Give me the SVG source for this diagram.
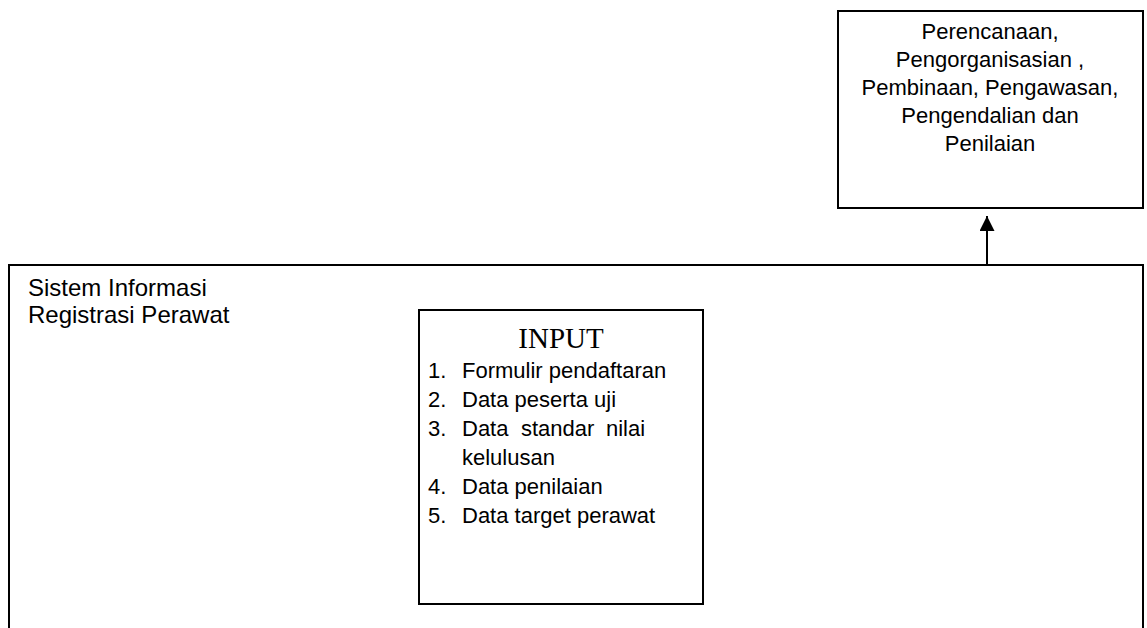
<svg xmlns="http://www.w3.org/2000/svg" width="1147" height="628" viewBox="0 0 1147 628">
<style>
.box{fill:#fff;stroke:#000;stroke-width:2}
.t{font-family:"Liberation Sans",Arial,sans-serif;font-size:22px;fill:#000}
.big{font-size:24px}
.serif{font-family:"Liberation Serif","Times New Roman",serif;font-size:29px;fill:#000}
.c{text-anchor:middle}
.conn{stroke:#000;stroke-width:2;fill:none}
</style>
<defs>
<marker id="arr" markerWidth="15" markerHeight="15" refX="15" refY="7.5" orient="auto" markerUnits="userSpaceOnUse" viewBox="0 0 15 15">
<path d="M0,0 L15,7.5 L0,15 z" fill="#000"/>
</marker>
</defs>
<rect width="1147" height="628" fill="#fff"/>
<g id="sistem">
<rect class="box" x="9" y="265" width="1134" height="400"/>
<text class="t big" x="28" y="296">Sistem Informasi</text>
<text class="t big" x="28" y="323">Registrasi Perawat</text>
</g>
<g id="manajemen">
<rect class="box" x="838" y="11" width="305" height="197"/>
<text class="t c" x="990" y="39">Perencanaan,</text>
<text class="t c" x="990" y="67">Pengorganisasian ,</text>
<text class="t c" x="990" y="95">Pembinaan, Pengawasan,</text>
<text class="t c" x="990" y="123">Pengendalian dan</text>
<text class="t c" x="990" y="151">Penilaian</text>
</g>
<g id="input">
<rect class="box" x="419" y="310" width="284" height="294"/>
<text class="serif c" x="561" y="348">INPUT</text>
<text class="t" x="428" y="378">1.</text><text class="t" x="462" y="378">Formulir pendaftaran</text>
<text class="t" x="428" y="407">2.</text><text class="t" x="462" y="407">Data peserta uji</text>
<text class="t" x="428" y="436">3.</text><text class="t" y="436"><tspan x="462">Data</tspan><tspan x="521">standar</tspan><tspan x="606">nilai</tspan></text>
<text class="t" x="462" y="465">kelulusan</text>
<text class="t" x="428" y="494">4.</text><text class="t" x="462" y="494">Data penilaian</text>
<text class="t" x="428" y="523">5.</text><text class="t" x="462" y="523">Data target perawat</text>
</g>
<g id="connectors">
<line class="conn" x1="987" y1="265" x2="987" y2="216" marker-end="url(#arr)"/>
</g>
</svg>
